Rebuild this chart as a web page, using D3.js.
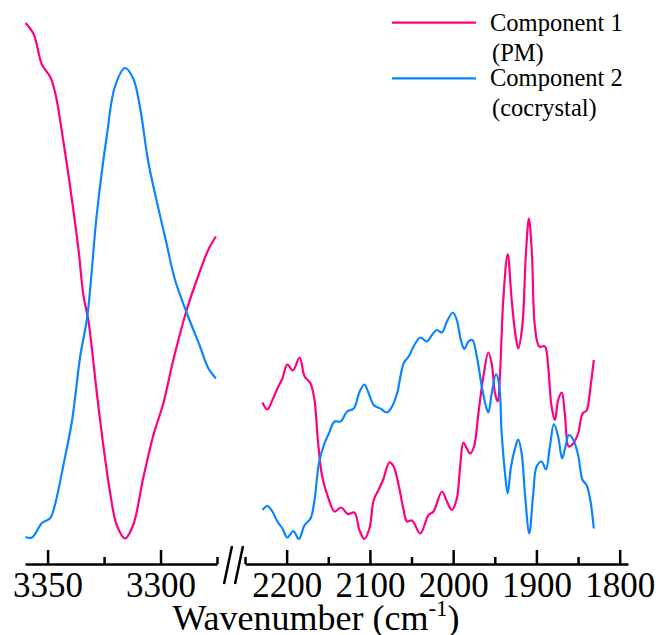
<!DOCTYPE html>
<html>
<head>
<meta charset="utf-8">
<script src="https://cdn.jsdelivr.net/npm/d3@7"></script>
</head>
<body style="margin:0;background:#fff">
<svg id="chart" width="660" height="635" style="display:block"></svg>
<script>
// wavenumber (cm-1), intensity (a.u.)
const pmLeft = [
  [3359.8, 107.4], [3356.2, 105.2], [3352.5, 99.1], [3348.8, 96.6], [3346.6, 93.4],
  [3342.9, 83.4], [3339.2, 72.0], [3336.3, 62.0], [3334.1, 52.8], [3331.9, 47.8],
  [3328.2, 33.4], [3325.3, 22.8], [3322.3, 13.4], [3319.4, 7.0], [3315.7, 4.3],
  [3312.1, 7.0], [3307.7, 16.3], [3303.2, 24.9], [3298.8, 31.3], [3294.4, 39.9],
  [3288.5, 49.9], [3282.6, 57.7], [3278.9, 62.0], [3275.5, 64.7]
];
const coLeft = [
  [3359.8, 4.6], [3356.9, 4.5], [3352.5, 7.4], [3348.8, 8.4], [3346.6, 11.3],
  [3342.9, 19.2], [3339.2, 27.8], [3335.6, 40.6], [3332.4, 48.8], [3328.2, 69.2],
  [3323.8, 84.8], [3320.1, 94.8], [3315.7, 98.4], [3312.1, 96.3], [3309.1, 90.6],
  [3305.5, 79.8], [3301.8, 72.0], [3297.4, 63.4], [3293.7, 56.2], [3288.3, 49.3],
  [3282.6, 42.8], [3278.9, 38.4], [3275.5, 36.3]
];
const pmRight = [
  [2229.1, 31.5], [2223.1, 30.1], [2217.1, 32.0], [2211.1, 34.3], [2205.1, 36.3],
  [2199.2, 39.1], [2192.5, 37.9], [2184.4, 40.5], [2178.4, 36.7], [2171.3, 35.3],
  [2166.5, 32.0], [2162.5, 24.0], [2157.3, 16.7], [2150.5, 12.7], [2142.5, 9.7],
  [2134.5, 10.5], [2126.6, 9.2], [2118.6, 9.5], [2112.6, 6.0], [2106.6, 4.2],
  [2100.6, 6.3], [2095.4, 12.0], [2090.6, 13.7], [2084.2, 16.0], [2076.6, 19.5],
  [2071.5, 18.7], [2065.5, 15.0], [2059.5, 10.0], [2055.5, 7.7], [2049.5, 7.9],
  [2039.5, 5.3], [2029.6, 9.0], [2023.6, 9.7], [2013.5, 13.7], [2007.5, 11.7],
  [2001.6, 10.0], [1995.6, 12.3], [1991.6, 18.7], [1987.7, 23.5], [1983.6, 22.3],
  [1979.6, 21.3], [1974.9, 22.7], [1969.7, 29.3], [1963.7, 36.7], [1957.7, 41.5],
  [1953.7, 39.3], [1949.7, 33.3], [1946.5, 31.7], [1943.7, 37.3], [1939.8, 52.0],
  [1934.5, 61.2], [1929.7, 52.0], [1924.9, 44.7], [1921.8, 42.3], [1917.0, 46.7],
  [1912.6, 61.3], [1909.0, 68.3], [1905.4, 61.3], [1901.8, 46.7], [1896.6, 42.7],
  [1889.8, 42.7], [1885.9, 38.7], [1881.8, 30.7], [1877.8, 28.0], [1873.9, 32.0],
  [1869.5, 33.5], [1865.9, 29.3], [1861.1, 22.7], [1855.9, 23.3], [1849.9, 25.3],
  [1844.6, 29.3], [1839.8, 29.9], [1835.0, 34.7], [1831.1, 40.0]
];
const coRight = [
  [2229.1, 10.0], [2223.1, 10.8], [2217.1, 9.7], [2211.1, 7.7], [2205.1, 6.3],
  [2199.2, 4.5], [2192.0, 5.8], [2185.3, 4.2], [2178.4, 7.0], [2171.3, 8.3],
  [2166.5, 12.0], [2161.3, 19.3], [2155.3, 23.0], [2149.3, 25.3], [2142.5, 27.7],
  [2135.3, 27.7], [2127.3, 29.7], [2119.4, 30.3], [2112.2, 33.7], [2106.6, 35.1],
  [2101.4, 33.3], [2095.4, 31.0], [2087.4, 30.3], [2079.4, 29.5], [2073.4, 30.7],
  [2067.4, 33.3], [2059.5, 39.3], [2053.5, 40.7], [2045.5, 43.3], [2039.5, 44.5],
  [2031.5, 43.7], [2025.5, 45.0], [2019.5, 46.0], [2013.5, 45.5], [2007.5, 47.7],
  [2000.4, 49.5], [1995.6, 48.0], [1990.8, 44.0], [1986.5, 42.2], [1981.7, 43.7],
  [1976.9, 44.0], [1971.6, 40.7], [1965.6, 34.7], [1960.5, 30.7], [1957.7, 29.5],
  [1953.7, 33.3], [1948.5, 37.2], [1944.9, 35.3], [1941.7, 25.3], [1937.7, 17.3],
  [1934.5, 13.3], [1930.5, 18.7], [1925.7, 22.3], [1921.8, 24.1], [1917.7, 21.3],
  [1913.8, 13.3], [1908.6, 5.3], [1903.8, 13.3], [1899.8, 18.7], [1893.8, 19.7],
  [1888.6, 18.1], [1883.8, 22.7], [1879.0, 27.2], [1873.9, 24.7], [1869.1, 20.3],
  [1865.1, 22.7], [1861.1, 25.0], [1855.9, 24.1], [1849.9, 21.0], [1844.6, 16.0],
  [1839.8, 15.0], [1835.0, 11.7], [1831.1, 6.3]
];

const leftMajor = [3350, 3300];
const leftMinor = [3325, 3275];
const rightMajor = [2200, 2100, 2000, 1900, 1800];
const rightMinor = [2250, 2150, 2050, 1950, 1850];

const legendItems = [
  { lines: ["Component 1", "(PM)"], color: "#ff0080" },
  { lines: ["Component 2", "(cocrystal)"], color: "#0a84ff" }
];

const pmColor = "#ff0080";
const coColor = "#0a84ff";
const serif = "'Liberation Serif'";

const svg = d3.select("#chart");
const axisY = 564;

const xLeft = d3.scaleLinear().domain([3360, 3275]).range([25, 217]);
const xRight = d3.scaleLinear().domain([2250, 1790]).range([245, 628]);
const y = d3.scaleLinear().domain([0, 108]).range([560, 20]);

function drawSeries(data, x, color) {
  const line = d3
    .line()
    .x(function (d) { return x(d[0]); })
    .y(function (d) { return y(d[1]); })
    .curve(d3.curveCatmullRom.alpha(0.5));
  svg
    .append("path")
    .datum(data)
    .attr("fill", "none")
    .attr("stroke", color)
    .attr("stroke-width", 2.2)
    .attr("stroke-linejoin", "round")
    .attr("d", line);
}

drawSeries(pmLeft, xLeft, pmColor);
drawSeries(coLeft, xLeft, coColor);
drawSeries(pmRight, xRight, pmColor);
drawSeries(coRight, xRight, coColor);

function drawAxis(x, major, minor) {
  const gMinor = svg
    .append("g")
    .attr("transform", "translate(0," + axisY + ")")
    .call(d3.axisBottom(x).tickValues(minor).tickSize(-7).tickSizeOuter(0).tickFormat(""));
  gMinor.select(".domain").remove();

  const g = svg
    .append("g")
    .attr("transform", "translate(0," + axisY + ")")
    .call(
      d3.axisBottom(x)
        .tickValues(major)
        .tickSize(-14)
        .tickSizeOuter(0)
        .tickPadding(8)
        .tickFormat(d3.format("d"))
    );
  g.attr("font-family", null).attr("font-size", null);
  g.selectAll("text")
    .style("font-family", serif)
    .attr("font-size", 35)
    .attr("fill", "#000");

  svg.selectAll(".domain, .tick line")
    .attr("stroke", "#000")
    .attr("stroke-width", 2.5);
}

drawAxis(xLeft, leftMajor, leftMinor);
drawAxis(xRight, rightMajor, rightMinor);

// axis break marks
[[224, 232], [235, 243]].forEach(function (p) {
  svg
    .append("line")
    .attr("x1", p[0])
    .attr("y1", 584)
    .attr("x2", p[1])
    .attr("y2", 546)
    .attr("stroke", "#000")
    .attr("stroke-width", 2.5);
});

// axis title
const title = svg
  .append("text")
  .attr("x", 316)
  .attr("y", 630)
  .attr("text-anchor", "middle")
  .style("font-family", serif)
  .attr("font-size", 36)
  .attr("fill", "#000");
title.append("tspan").text("Wavenumber (cm");
title.append("tspan").attr("font-size", 23).attr("dy", -14).text("-1");
title.append("tspan").attr("dy", 14).text(")");

// legend
legendItems.forEach(function (item, i) {
  const top = 22.7 + i * 55.6;
  svg
    .append("line")
    .attr("x1", 392)
    .attr("x2", 476)
    .attr("y1", top)
    .attr("y2", top)
    .attr("stroke", item.color)
    .attr("stroke-width", 2.2);
  item.lines.forEach(function (t, j) {
    svg
      .append("text")
      .attr("x", 490 + j * 2)
      .attr("y", top + 8 + j * 30)
      .style("font-family", serif)
      .attr("font-size", 24.5)
      .attr("fill", "#000")
      .text(t);
  });
});
</script>
</body>
</html>
